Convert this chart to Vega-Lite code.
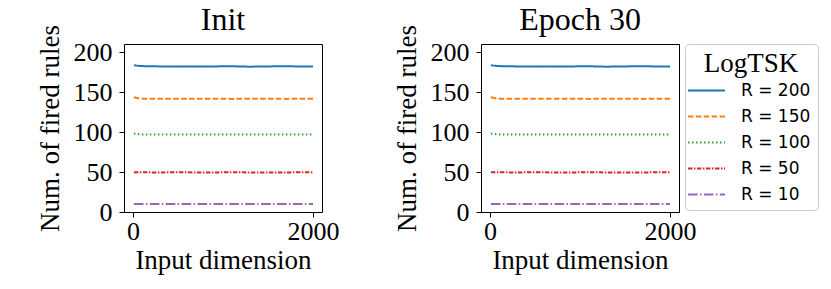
{
  "$schema": "https://vega.github.io/schema/vega-lite/v6.json",
  "background": "white",
  "padding": {"left": 35, "top": 4, "right": 5, "bottom": 5},
  "datasets": {
    "d": [
      {"panel":"Init","label":"R = 200","x":10,"y":183.5},{"panel":"Init","label":"R = 200","x":100,"y":182.4},{"panel":"Init","label":"R = 200","x":300,"y":182.0},{"panel":"Init","label":"R = 200","x":500,"y":181.8},{"panel":"Init","label":"R = 200","x":700,"y":181.9},{"panel":"Init","label":"R = 200","x":900,"y":182.0},{"panel":"Init","label":"R = 200","x":1100,"y":182.1},{"panel":"Init","label":"R = 200","x":1300,"y":181.7},{"panel":"Init","label":"R = 200","x":1500,"y":182.0},{"panel":"Init","label":"R = 200","x":1700,"y":182.1},{"panel":"Init","label":"R = 200","x":1900,"y":181.9},{"panel":"Init","label":"R = 200","x":2000,"y":181.8},
      {"panel":"Init","label":"R = 150","x":10,"y":143.5},{"panel":"Init","label":"R = 150","x":100,"y":141.7},{"panel":"Init","label":"R = 150","x":300,"y":141.5},{"panel":"Init","label":"R = 150","x":500,"y":141.6},{"panel":"Init","label":"R = 150","x":700,"y":141.5},{"panel":"Init","label":"R = 150","x":900,"y":141.7},{"panel":"Init","label":"R = 150","x":1100,"y":141.4},{"panel":"Init","label":"R = 150","x":1300,"y":141.5},{"panel":"Init","label":"R = 150","x":1500,"y":141.6},{"panel":"Init","label":"R = 150","x":1700,"y":141.4},{"panel":"Init","label":"R = 150","x":1900,"y":141.5},{"panel":"Init","label":"R = 150","x":2000,"y":141.5},
      {"panel":"Init","label":"R = 100","x":10,"y":98.0},{"panel":"Init","label":"R = 100","x":100,"y":97.0},{"panel":"Init","label":"R = 100","x":300,"y":96.8},{"panel":"Init","label":"R = 100","x":500,"y":96.9},{"panel":"Init","label":"R = 100","x":700,"y":96.8},{"panel":"Init","label":"R = 100","x":900,"y":96.8},{"panel":"Init","label":"R = 100","x":1100,"y":96.9},{"panel":"Init","label":"R = 100","x":1300,"y":96.8},{"panel":"Init","label":"R = 100","x":1500,"y":96.8},{"panel":"Init","label":"R = 100","x":1700,"y":96.9},{"panel":"Init","label":"R = 100","x":1900,"y":96.8},{"panel":"Init","label":"R = 100","x":2000,"y":96.7},
      {"panel":"Init","label":"R = 50","x":10,"y":49.8},{"panel":"Init","label":"R = 50","x":100,"y":49.6},{"panel":"Init","label":"R = 50","x":300,"y":49.5},{"panel":"Init","label":"R = 50","x":500,"y":49.6},{"panel":"Init","label":"R = 50","x":700,"y":49.5},{"panel":"Init","label":"R = 50","x":900,"y":49.5},{"panel":"Init","label":"R = 50","x":1100,"y":49.6},{"panel":"Init","label":"R = 50","x":1300,"y":49.5},{"panel":"Init","label":"R = 50","x":1500,"y":49.5},{"panel":"Init","label":"R = 50","x":1700,"y":49.5},{"panel":"Init","label":"R = 50","x":1900,"y":49.6},{"panel":"Init","label":"R = 50","x":2000,"y":49.5},
      {"panel":"Init","label":"R = 10","x":10,"y":10.0},{"panel":"Init","label":"R = 10","x":100,"y":10.0},{"panel":"Init","label":"R = 10","x":300,"y":10.0},{"panel":"Init","label":"R = 10","x":500,"y":9.9},{"panel":"Init","label":"R = 10","x":700,"y":10.0},{"panel":"Init","label":"R = 10","x":900,"y":10.0},{"panel":"Init","label":"R = 10","x":1100,"y":10.0},{"panel":"Init","label":"R = 10","x":1300,"y":9.9},{"panel":"Init","label":"R = 10","x":1500,"y":10.0},{"panel":"Init","label":"R = 10","x":1700,"y":10.0},{"panel":"Init","label":"R = 10","x":1900,"y":10.0},{"panel":"Init","label":"R = 10","x":2000,"y":10.0},
      {"panel":"Epoch 30","label":"R = 200","x":10,"y":183.5},{"panel":"Epoch 30","label":"R = 200","x":100,"y":182.4},{"panel":"Epoch 30","label":"R = 200","x":300,"y":182.0},{"panel":"Epoch 30","label":"R = 200","x":500,"y":181.8},{"panel":"Epoch 30","label":"R = 200","x":700,"y":181.9},{"panel":"Epoch 30","label":"R = 200","x":900,"y":182.0},{"panel":"Epoch 30","label":"R = 200","x":1100,"y":182.1},{"panel":"Epoch 30","label":"R = 200","x":1300,"y":181.7},{"panel":"Epoch 30","label":"R = 200","x":1500,"y":182.0},{"panel":"Epoch 30","label":"R = 200","x":1700,"y":182.1},{"panel":"Epoch 30","label":"R = 200","x":1900,"y":181.9},{"panel":"Epoch 30","label":"R = 200","x":2000,"y":181.8},
      {"panel":"Epoch 30","label":"R = 150","x":10,"y":143.5},{"panel":"Epoch 30","label":"R = 150","x":100,"y":141.7},{"panel":"Epoch 30","label":"R = 150","x":300,"y":141.5},{"panel":"Epoch 30","label":"R = 150","x":500,"y":141.6},{"panel":"Epoch 30","label":"R = 150","x":700,"y":141.5},{"panel":"Epoch 30","label":"R = 150","x":900,"y":141.7},{"panel":"Epoch 30","label":"R = 150","x":1100,"y":141.4},{"panel":"Epoch 30","label":"R = 150","x":1300,"y":141.5},{"panel":"Epoch 30","label":"R = 150","x":1500,"y":141.6},{"panel":"Epoch 30","label":"R = 150","x":1700,"y":141.4},{"panel":"Epoch 30","label":"R = 150","x":1900,"y":141.5},{"panel":"Epoch 30","label":"R = 150","x":2000,"y":141.5},
      {"panel":"Epoch 30","label":"R = 100","x":10,"y":98.0},{"panel":"Epoch 30","label":"R = 100","x":100,"y":97.0},{"panel":"Epoch 30","label":"R = 100","x":300,"y":96.8},{"panel":"Epoch 30","label":"R = 100","x":500,"y":96.9},{"panel":"Epoch 30","label":"R = 100","x":700,"y":96.8},{"panel":"Epoch 30","label":"R = 100","x":900,"y":96.8},{"panel":"Epoch 30","label":"R = 100","x":1100,"y":96.9},{"panel":"Epoch 30","label":"R = 100","x":1300,"y":96.8},{"panel":"Epoch 30","label":"R = 100","x":1500,"y":96.8},{"panel":"Epoch 30","label":"R = 100","x":1700,"y":96.9},{"panel":"Epoch 30","label":"R = 100","x":1900,"y":96.8},{"panel":"Epoch 30","label":"R = 100","x":2000,"y":96.7},
      {"panel":"Epoch 30","label":"R = 50","x":10,"y":49.8},{"panel":"Epoch 30","label":"R = 50","x":100,"y":49.6},{"panel":"Epoch 30","label":"R = 50","x":300,"y":49.5},{"panel":"Epoch 30","label":"R = 50","x":500,"y":49.6},{"panel":"Epoch 30","label":"R = 50","x":700,"y":49.5},{"panel":"Epoch 30","label":"R = 50","x":900,"y":49.5},{"panel":"Epoch 30","label":"R = 50","x":1100,"y":49.6},{"panel":"Epoch 30","label":"R = 50","x":1300,"y":49.5},{"panel":"Epoch 30","label":"R = 50","x":1500,"y":49.5},{"panel":"Epoch 30","label":"R = 50","x":1700,"y":49.5},{"panel":"Epoch 30","label":"R = 50","x":1900,"y":49.6},{"panel":"Epoch 30","label":"R = 50","x":2000,"y":49.5},
      {"panel":"Epoch 30","label":"R = 10","x":10,"y":10.0},{"panel":"Epoch 30","label":"R = 10","x":100,"y":10.0},{"panel":"Epoch 30","label":"R = 10","x":300,"y":10.0},{"panel":"Epoch 30","label":"R = 10","x":500,"y":9.9},{"panel":"Epoch 30","label":"R = 10","x":700,"y":10.0},{"panel":"Epoch 30","label":"R = 10","x":900,"y":10.0},{"panel":"Epoch 30","label":"R = 10","x":1100,"y":10.0},{"panel":"Epoch 30","label":"R = 10","x":1300,"y":9.9},{"panel":"Epoch 30","label":"R = 10","x":1500,"y":10.0},{"panel":"Epoch 30","label":"R = 10","x":1700,"y":10.0},{"panel":"Epoch 30","label":"R = 10","x":1900,"y":10.0},{"panel":"Epoch 30","label":"R = 10","x":2000,"y":10.0}
    ]
  },
  "data": {"name": "d"},
  "facet": {
    "column": {
      "field": "panel",
      "type": "nominal",
      "sort": ["Init", "Epoch 30"],
      "header": {"title": null, "labelFont": "Liberation Serif", "labelFontSize": 32, "labelColor": "black", "labelPadding": -13}
    }
  },
  "spacing": 52,
  "resolve": {"axis": {"x": "independent", "y": "independent"}},
  "spec": {
    "width": 198,
    "height": 168,
    "mark": {"type": "line", "strokeWidth": 2, "interpolate": "monotone"},
    "encoding": {
      "x": {
        "field": "x", "type": "quantitative",
        "scale": {"domain": [-100, 2100], "nice": false, "zero": false},
        "axis": {"values": [0, 2000], "format": "d", "title": "Input dimension"}
      },
      "y": {
        "field": "y", "type": "quantitative",
        "scale": {"domain": [0, 210], "nice": false},
        "axis": {"values": [0, 50, 100, 150, 200], "format": "d", "title": "Num. of fired rules"}
      },
      "color": {
        "field": "label", "type": "nominal",
        "scale": {"domain": ["R = 200", "R = 150", "R = 100", "R = 50", "R = 10"], "range": ["#1f77b4", "#ff7f0e", "#2ca02c", "#d62728", "#9467bd"]},
        "legend": {"title": "LogTSK"}
      },
      "strokeDash": {
        "field": "label", "type": "nominal",
        "scale": {"domain": ["R = 200", "R = 150", "R = 100", "R = 50", "R = 10"], "range": [[1, 0], [5.5, 2.4], [1.5, 2.5], [4.5, 1.5, 1.5, 1.5], [9.6, 2.4, 1.5, 2.4]]},
        "legend": {"title": "LogTSK"}
      }
    }
  },
  "config": {
    "view": {"stroke": "black", "strokeWidth": 1},
    "axis": {
      "domain": false, "grid": false,
      "tickColor": "black", "tickSize": 5, "tickWidth": 1,
      "labelFont": "Liberation Serif", "labelFontSize": 26, "labelColor": "black",
      "titleFont": "Liberation Serif", "titleFontSize": 27, "titleFontWeight": "normal", "titleColor": "black"
    },
    "axisY": {"titlePadding": 9, "labelPadding": 7},
    "axisX": {"titlePadding": 3, "labelPadding": 1},
    "legend": {
      "orient": "right", "offset": -12,
      "strokeColor": "#cccccc", "cornerRadius": 4, "fillColor": "white", "padding": 7,
      "titleFont": "Liberation Serif", "titleFontSize": 27, "titleFontWeight": "normal", "titleColor": "black", "titleAnchor": "middle", "titlePadding": -2,
      "labelFont": "DejaVu Sans", "labelFontSize": 17, "labelColor": "black", "labelOffset": 20,
      "symbolType": "M-1.4,0H1.4", "symbolSize": 700, "symbolStrokeWidth": 2, "rowPadding": 3
    }
  }
}
